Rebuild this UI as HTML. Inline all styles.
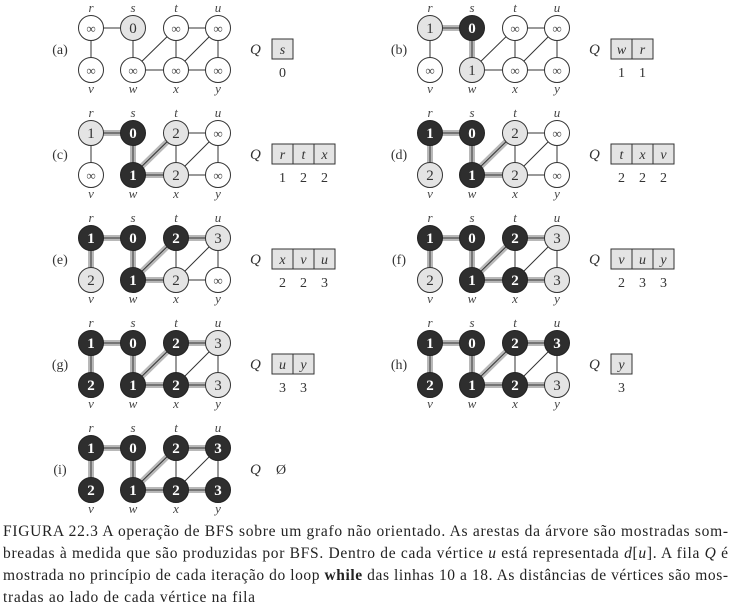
<!DOCTYPE html>
<html><head><meta charset="utf-8"><style>
html,body{margin:0;padding:0;background:#fff;}
svg{display:block}
.e{stroke:#333;stroke-width:1}
.t{stroke:#b8b8b8;stroke-width:6;stroke-linecap:round}
.w{fill:#fff;stroke:#333;stroke-width:1}
.g{fill:#e4e4e4;stroke:#333;stroke-width:1}
.b{fill:#2e2e2e;stroke:#222;stroke-width:1}
text{font-family:"Liberation Serif",serif}
.n{font-size:15px;text-anchor:middle;fill:#333}
.nb{font-size:15px;text-anchor:middle;fill:#fff;font-weight:bold}
.inf{font-size:13px;text-anchor:middle;fill:#444}
.lb{font-size:13px;font-style:italic;text-anchor:middle;fill:#444}
.pl{font-size:14px;text-anchor:middle;fill:#333}
.q{font-size:15px;font-style:italic;fill:#333}
.qc{fill:#e4e4e4;stroke:#333;stroke-width:1}
.qt{font-size:14px;font-style:italic;text-anchor:middle;fill:#333}
.qd{font-size:14px;text-anchor:middle;fill:#333}
.cap{font-size:15.5px;fill:#222}
</style></head><body>
<svg width="731" height="614" viewBox="0 0 731 614" xmlns="http://www.w3.org/2000/svg">
<defs>
<g id="E">
<line class="e" x1="91" y1="28" x2="133" y2="28"/><line class="e" x1="91" y1="28" x2="91" y2="70"/>
<line class="e" x1="133" y1="28" x2="133" y2="70"/><line class="e" x1="133" y1="70" x2="176" y2="28"/>
<line class="e" x1="133" y1="70" x2="176" y2="70"/><line class="e" x1="176" y1="28" x2="176" y2="70"/>
<line class="e" x1="176" y1="28" x2="218" y2="28"/><line class="e" x1="176" y1="70" x2="218" y2="28"/>
<line class="e" x1="176" y1="70" x2="218" y2="70"/><line class="e" x1="218" y1="28" x2="218" y2="70"/>
</g>
<line id="Trs" class="t" x1="91" y1="28" x2="133" y2="28"/>
<line id="Tsw" class="t" x1="133" y1="28" x2="133" y2="70"/>
<line id="Twt" class="t" x1="133" y1="70" x2="176" y2="28"/>
<line id="Twx" class="t" x1="133" y1="70" x2="176" y2="70"/>
<line id="Trv" class="t" x1="91" y1="28" x2="91" y2="70"/>
<line id="Ttu" class="t" x1="176" y1="28" x2="218" y2="28"/>
<line id="Txy" class="t" x1="176" y1="70" x2="218" y2="70"/>
</defs>

<!-- (a) -->
<g transform="translate(0,0)">
<use href="#E"/>
<circle class="w" cx="91" cy="28" r="12.5"/><text class="inf" x="91" y="33">∞</text>
<circle class="g" cx="133" cy="28" r="12.5"/><text class="n" x="133" y="33">0</text>
<circle class="w" cx="176" cy="28" r="12.5"/><text class="inf" x="176" y="33">∞</text>
<circle class="w" cx="218" cy="28" r="12.5"/><text class="inf" x="218" y="33">∞</text>
<circle class="w" cx="91" cy="70" r="12.5"/><text class="inf" x="91" y="75">∞</text>
<circle class="w" cx="133" cy="70" r="12.5"/><text class="inf" x="133" y="75">∞</text>
<circle class="w" cx="176" cy="70" r="12.5"/><text class="inf" x="176" y="75">∞</text>
<circle class="w" cx="218" cy="70" r="12.5"/><text class="inf" x="218" y="75">∞</text>
<text class="lb" x="91" y="12">r</text><text class="lb" x="133" y="12">s</text><text class="lb" x="176" y="12">t</text><text class="lb" x="218" y="12">u</text>
<text class="lb" x="91" y="93">v</text><text class="lb" x="133" y="93">w</text><text class="lb" x="176" y="93">x</text><text class="lb" x="218" y="93">y</text>
<text class="pl" x="60" y="54">(a)</text><text class="q" x="250" y="54">Q</text>
<rect class="qc" x="272" y="39" width="21" height="20"/><text class="qt" x="282.5" y="54">s</text>
<text class="qd" x="282.5" y="77">0</text>
</g>

<!-- (b) -->
<g transform="translate(339,0)">
<use href="#Trs"/><use href="#Tsw"/><use href="#E"/>
<circle class="g" cx="91" cy="28" r="12.5"/><text class="n" x="91" y="33">1</text>
<circle class="b" cx="133" cy="28" r="12.5"/><text class="nb" x="133" y="33">0</text>
<circle class="w" cx="176" cy="28" r="12.5"/><text class="inf" x="176" y="33">∞</text>
<circle class="w" cx="218" cy="28" r="12.5"/><text class="inf" x="218" y="33">∞</text>
<circle class="w" cx="91" cy="70" r="12.5"/><text class="inf" x="91" y="75">∞</text>
<circle class="g" cx="133" cy="70" r="12.5"/><text class="n" x="133" y="75">1</text>
<circle class="w" cx="176" cy="70" r="12.5"/><text class="inf" x="176" y="75">∞</text>
<circle class="w" cx="218" cy="70" r="12.5"/><text class="inf" x="218" y="75">∞</text>
<text class="lb" x="91" y="12">r</text><text class="lb" x="133" y="12">s</text><text class="lb" x="176" y="12">t</text><text class="lb" x="218" y="12">u</text>
<text class="lb" x="91" y="93">v</text><text class="lb" x="133" y="93">w</text><text class="lb" x="176" y="93">x</text><text class="lb" x="218" y="93">y</text>
<text class="pl" x="60" y="54">(b)</text><text class="q" x="250" y="54">Q</text>
<rect class="qc" x="272" y="39" width="21" height="20"/><text class="qt" x="282.5" y="54">w</text>
<rect class="qc" x="293" y="39" width="21" height="20"/><text class="qt" x="303.5" y="54">r</text>
<text class="qd" x="282.5" y="77">1</text><text class="qd" x="303.5" y="77">1</text>
</g>

<!-- (c) -->
<g transform="translate(0,105)">
<use href="#Trs"/><use href="#Tsw"/><use href="#Twt"/><use href="#Twx"/><use href="#E"/>
<circle class="g" cx="91" cy="28" r="12.5"/><text class="n" x="91" y="33">1</text>
<circle class="b" cx="133" cy="28" r="12.5"/><text class="nb" x="133" y="33">0</text>
<circle class="g" cx="176" cy="28" r="12.5"/><text class="n" x="176" y="33">2</text>
<circle class="w" cx="218" cy="28" r="12.5"/><text class="inf" x="218" y="33">∞</text>
<circle class="w" cx="91" cy="70" r="12.5"/><text class="inf" x="91" y="75">∞</text>
<circle class="b" cx="133" cy="70" r="12.5"/><text class="nb" x="133" y="75">1</text>
<circle class="g" cx="176" cy="70" r="12.5"/><text class="n" x="176" y="75">2</text>
<circle class="w" cx="218" cy="70" r="12.5"/><text class="inf" x="218" y="75">∞</text>
<text class="lb" x="91" y="12">r</text><text class="lb" x="133" y="12">s</text><text class="lb" x="176" y="12">t</text><text class="lb" x="218" y="12">u</text>
<text class="lb" x="91" y="93">v</text><text class="lb" x="133" y="93">w</text><text class="lb" x="176" y="93">x</text><text class="lb" x="218" y="93">y</text>
<text class="pl" x="60" y="54">(c)</text><text class="q" x="250" y="54">Q</text>
<rect class="qc" x="272" y="39" width="21" height="20"/><text class="qt" x="282.5" y="54">r</text>
<rect class="qc" x="293" y="39" width="21" height="20"/><text class="qt" x="303.5" y="54">t</text>
<rect class="qc" x="314" y="39" width="21" height="20"/><text class="qt" x="324.5" y="54">x</text>
<text class="qd" x="282.5" y="77">1</text><text class="qd" x="303.5" y="77">2</text><text class="qd" x="324.5" y="77">2</text>
</g>

<!-- (d) -->
<g transform="translate(339,105)">
<use href="#Trs"/><use href="#Tsw"/><use href="#Twt"/><use href="#Twx"/><use href="#Trv"/><use href="#E"/>
<circle class="b" cx="91" cy="28" r="12.5"/><text class="nb" x="91" y="33">1</text>
<circle class="b" cx="133" cy="28" r="12.5"/><text class="nb" x="133" y="33">0</text>
<circle class="g" cx="176" cy="28" r="12.5"/><text class="n" x="176" y="33">2</text>
<circle class="w" cx="218" cy="28" r="12.5"/><text class="inf" x="218" y="33">∞</text>
<circle class="g" cx="91" cy="70" r="12.5"/><text class="n" x="91" y="75">2</text>
<circle class="b" cx="133" cy="70" r="12.5"/><text class="nb" x="133" y="75">1</text>
<circle class="g" cx="176" cy="70" r="12.5"/><text class="n" x="176" y="75">2</text>
<circle class="w" cx="218" cy="70" r="12.5"/><text class="inf" x="218" y="75">∞</text>
<text class="lb" x="91" y="12">r</text><text class="lb" x="133" y="12">s</text><text class="lb" x="176" y="12">t</text><text class="lb" x="218" y="12">u</text>
<text class="lb" x="91" y="93">v</text><text class="lb" x="133" y="93">w</text><text class="lb" x="176" y="93">x</text><text class="lb" x="218" y="93">y</text>
<text class="pl" x="60" y="54">(d)</text><text class="q" x="250" y="54">Q</text>
<rect class="qc" x="272" y="39" width="21" height="20"/><text class="qt" x="282.5" y="54">t</text>
<rect class="qc" x="293" y="39" width="21" height="20"/><text class="qt" x="303.5" y="54">x</text>
<rect class="qc" x="314" y="39" width="21" height="20"/><text class="qt" x="324.5" y="54">v</text>
<text class="qd" x="282.5" y="77">2</text><text class="qd" x="303.5" y="77">2</text><text class="qd" x="324.5" y="77">2</text>
</g>

<!-- (e) -->
<g transform="translate(0,210)">
<use href="#Trs"/><use href="#Tsw"/><use href="#Twt"/><use href="#Twx"/><use href="#Trv"/><use href="#Ttu"/><use href="#E"/>
<circle class="b" cx="91" cy="28" r="12.5"/><text class="nb" x="91" y="33">1</text>
<circle class="b" cx="133" cy="28" r="12.5"/><text class="nb" x="133" y="33">0</text>
<circle class="b" cx="176" cy="28" r="12.5"/><text class="nb" x="176" y="33">2</text>
<circle class="g" cx="218" cy="28" r="12.5"/><text class="n" x="218" y="33">3</text>
<circle class="g" cx="91" cy="70" r="12.5"/><text class="n" x="91" y="75">2</text>
<circle class="b" cx="133" cy="70" r="12.5"/><text class="nb" x="133" y="75">1</text>
<circle class="g" cx="176" cy="70" r="12.5"/><text class="n" x="176" y="75">2</text>
<circle class="w" cx="218" cy="70" r="12.5"/><text class="inf" x="218" y="75">∞</text>
<text class="lb" x="91" y="12">r</text><text class="lb" x="133" y="12">s</text><text class="lb" x="176" y="12">t</text><text class="lb" x="218" y="12">u</text>
<text class="lb" x="91" y="93">v</text><text class="lb" x="133" y="93">w</text><text class="lb" x="176" y="93">x</text><text class="lb" x="218" y="93">y</text>
<text class="pl" x="60" y="54">(e)</text><text class="q" x="250" y="54">Q</text>
<rect class="qc" x="272" y="39" width="21" height="20"/><text class="qt" x="282.5" y="54">x</text>
<rect class="qc" x="293" y="39" width="21" height="20"/><text class="qt" x="303.5" y="54">v</text>
<rect class="qc" x="314" y="39" width="21" height="20"/><text class="qt" x="324.5" y="54">u</text>
<text class="qd" x="282.5" y="77">2</text><text class="qd" x="303.5" y="77">2</text><text class="qd" x="324.5" y="77">3</text>
</g>

<!-- (f) -->
<g transform="translate(339,210)">
<use href="#Trs"/><use href="#Tsw"/><use href="#Twt"/><use href="#Twx"/><use href="#Trv"/><use href="#Ttu"/><use href="#Txy"/><use href="#E"/>
<circle class="b" cx="91" cy="28" r="12.5"/><text class="nb" x="91" y="33">1</text>
<circle class="b" cx="133" cy="28" r="12.5"/><text class="nb" x="133" y="33">0</text>
<circle class="b" cx="176" cy="28" r="12.5"/><text class="nb" x="176" y="33">2</text>
<circle class="g" cx="218" cy="28" r="12.5"/><text class="n" x="218" y="33">3</text>
<circle class="g" cx="91" cy="70" r="12.5"/><text class="n" x="91" y="75">2</text>
<circle class="b" cx="133" cy="70" r="12.5"/><text class="nb" x="133" y="75">1</text>
<circle class="b" cx="176" cy="70" r="12.5"/><text class="nb" x="176" y="75">2</text>
<circle class="g" cx="218" cy="70" r="12.5"/><text class="n" x="218" y="75">3</text>
<text class="lb" x="91" y="12">r</text><text class="lb" x="133" y="12">s</text><text class="lb" x="176" y="12">t</text><text class="lb" x="218" y="12">u</text>
<text class="lb" x="91" y="93">v</text><text class="lb" x="133" y="93">w</text><text class="lb" x="176" y="93">x</text><text class="lb" x="218" y="93">y</text>
<text class="pl" x="60" y="54">(f)</text><text class="q" x="250" y="54">Q</text>
<rect class="qc" x="272" y="39" width="21" height="20"/><text class="qt" x="282.5" y="54">v</text>
<rect class="qc" x="293" y="39" width="21" height="20"/><text class="qt" x="303.5" y="54">u</text>
<rect class="qc" x="314" y="39" width="21" height="20"/><text class="qt" x="324.5" y="54">y</text>
<text class="qd" x="282.5" y="77">2</text><text class="qd" x="303.5" y="77">3</text><text class="qd" x="324.5" y="77">3</text>
</g>

<!-- (g) -->
<g transform="translate(0,315)">
<use href="#Trs"/><use href="#Tsw"/><use href="#Twt"/><use href="#Twx"/><use href="#Trv"/><use href="#Ttu"/><use href="#Txy"/><use href="#E"/>
<circle class="b" cx="91" cy="28" r="12.5"/><text class="nb" x="91" y="33">1</text>
<circle class="b" cx="133" cy="28" r="12.5"/><text class="nb" x="133" y="33">0</text>
<circle class="b" cx="176" cy="28" r="12.5"/><text class="nb" x="176" y="33">2</text>
<circle class="g" cx="218" cy="28" r="12.5"/><text class="n" x="218" y="33">3</text>
<circle class="b" cx="91" cy="70" r="12.5"/><text class="nb" x="91" y="75">2</text>
<circle class="b" cx="133" cy="70" r="12.5"/><text class="nb" x="133" y="75">1</text>
<circle class="b" cx="176" cy="70" r="12.5"/><text class="nb" x="176" y="75">2</text>
<circle class="g" cx="218" cy="70" r="12.5"/><text class="n" x="218" y="75">3</text>
<text class="lb" x="91" y="12">r</text><text class="lb" x="133" y="12">s</text><text class="lb" x="176" y="12">t</text><text class="lb" x="218" y="12">u</text>
<text class="lb" x="91" y="93">v</text><text class="lb" x="133" y="93">w</text><text class="lb" x="176" y="93">x</text><text class="lb" x="218" y="93">y</text>
<text class="pl" x="60" y="54">(g)</text><text class="q" x="250" y="54">Q</text>
<rect class="qc" x="272" y="39" width="21" height="20"/><text class="qt" x="282.5" y="54">u</text>
<rect class="qc" x="293" y="39" width="21" height="20"/><text class="qt" x="303.5" y="54">y</text>
<text class="qd" x="282.5" y="77">3</text><text class="qd" x="303.5" y="77">3</text>
</g>

<!-- (h) -->
<g transform="translate(339,315)">
<use href="#Trs"/><use href="#Tsw"/><use href="#Twt"/><use href="#Twx"/><use href="#Trv"/><use href="#Ttu"/><use href="#Txy"/><use href="#E"/>
<circle class="b" cx="91" cy="28" r="12.5"/><text class="nb" x="91" y="33">1</text>
<circle class="b" cx="133" cy="28" r="12.5"/><text class="nb" x="133" y="33">0</text>
<circle class="b" cx="176" cy="28" r="12.5"/><text class="nb" x="176" y="33">2</text>
<circle class="b" cx="218" cy="28" r="12.5"/><text class="nb" x="218" y="33">3</text>
<circle class="b" cx="91" cy="70" r="12.5"/><text class="nb" x="91" y="75">2</text>
<circle class="b" cx="133" cy="70" r="12.5"/><text class="nb" x="133" y="75">1</text>
<circle class="b" cx="176" cy="70" r="12.5"/><text class="nb" x="176" y="75">2</text>
<circle class="g" cx="218" cy="70" r="12.5"/><text class="n" x="218" y="75">3</text>
<text class="lb" x="91" y="12">r</text><text class="lb" x="133" y="12">s</text><text class="lb" x="176" y="12">t</text><text class="lb" x="218" y="12">u</text>
<text class="lb" x="91" y="93">v</text><text class="lb" x="133" y="93">w</text><text class="lb" x="176" y="93">x</text><text class="lb" x="218" y="93">y</text>
<text class="pl" x="60" y="54">(h)</text><text class="q" x="250" y="54">Q</text>
<rect class="qc" x="272" y="39" width="21" height="20"/><text class="qt" x="282.5" y="54">y</text>
<text class="qd" x="282.5" y="77">3</text>
</g>

<!-- (i) -->
<g transform="translate(0,420)">
<use href="#Trs"/><use href="#Tsw"/><use href="#Twt"/><use href="#Twx"/><use href="#Trv"/><use href="#Ttu"/><use href="#Txy"/><use href="#E"/>
<circle class="b" cx="91" cy="28" r="12.5"/><text class="nb" x="91" y="33">1</text>
<circle class="b" cx="133" cy="28" r="12.5"/><text class="nb" x="133" y="33">0</text>
<circle class="b" cx="176" cy="28" r="12.5"/><text class="nb" x="176" y="33">2</text>
<circle class="b" cx="218" cy="28" r="12.5"/><text class="nb" x="218" y="33">3</text>
<circle class="b" cx="91" cy="70" r="12.5"/><text class="nb" x="91" y="75">2</text>
<circle class="b" cx="133" cy="70" r="12.5"/><text class="nb" x="133" y="75">1</text>
<circle class="b" cx="176" cy="70" r="12.5"/><text class="nb" x="176" y="75">2</text>
<circle class="b" cx="218" cy="70" r="12.5"/><text class="nb" x="218" y="75">3</text>
<text class="lb" x="91" y="12">r</text><text class="lb" x="133" y="12">s</text><text class="lb" x="176" y="12">t</text><text class="lb" x="218" y="12">u</text>
<text class="lb" x="91" y="93">v</text><text class="lb" x="133" y="93">w</text><text class="lb" x="176" y="93">x</text><text class="lb" x="218" y="93">y</text>
<text class="pl" x="60" y="54">(i)</text><text class="q" x="250" y="54">Q</text>
<text class="qd" x="281" y="54">Ø</text>
</g>

<!-- caption -->
<text class="cap" x="3" y="536" textLength="725" lengthAdjust="spacing">FIGURA 22.3 A operação de BFS sobre um grafo não orientado. As arestas da árvore são mostradas som-</text>
<text class="cap" x="3" y="558" textLength="725" lengthAdjust="spacing">breadas à medida que são produzidas por BFS. Dentro de cada vértice <tspan font-style="italic">u</tspan> está representada <tspan font-style="italic">d</tspan>[<tspan font-style="italic">u</tspan>]. A fila <tspan font-style="italic">Q</tspan> é</text>
<text class="cap" x="3" y="580" textLength="725" lengthAdjust="spacing">mostrada no princípio de cada iteração do loop <tspan font-weight="bold">while</tspan> das linhas 10 a 18. As distâncias de vértices são mos-</text>
<text class="cap" x="3" y="602" textLength="252" lengthAdjust="spacing">tradas ao lado de cada vértice na fila</text>
</svg>
</body></html>
